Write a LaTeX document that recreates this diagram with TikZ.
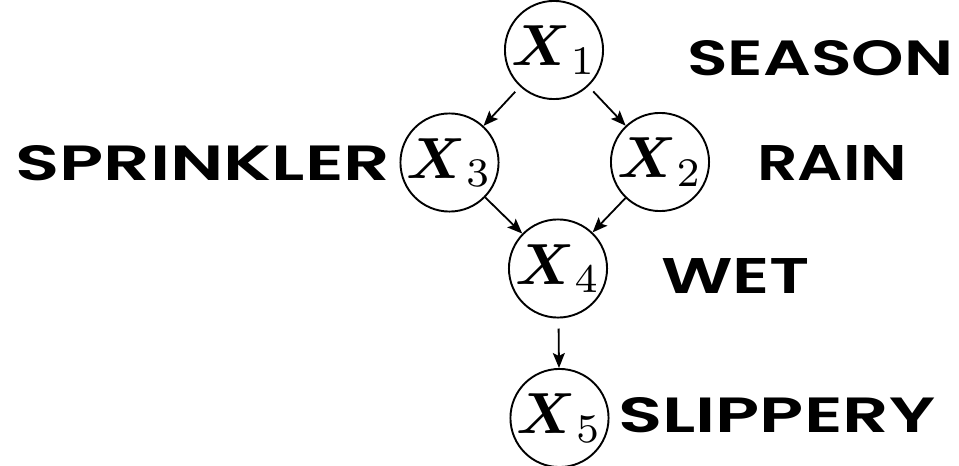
\documentclass[tikz,border=0pt]{standalone}
\usepackage{amsmath}
\usepackage{graphicx}
\usepackage{fontspec}
\newfontfamily\labfont{Poppins}[UprightFont=*-SemiBold]
\usetikzlibrary{arrows.meta}
\tikzset{
  var/.style={circle,draw,line width=1.9pt,minimum size=93pt,inner sep=0pt},
  lab/.style={anchor=base west,inner sep=0pt,font=\labfont},
  edge/.style={line width=1.8pt,-{Stealth[length=15pt,width=12pt,inset=3pt]}}
}
\newcommand{\lbl}[2]{\resizebox{#1}{35pt}{#2}}
\newcommand{\vx}[1]{\scalebox{5.8}{$\boldsymbol{X}_{#1}$}}
\begin{document}
\begin{tikzpicture}[x=1pt,y=-1pt]
\useasboundingbox (0,0) rectangle (959,466);
\node[var] (x1) at (554,50) {\vx{1}};
\node[var] (x3) at (449.5,162.5) {\vx{3}};
\node[var] (x2) at (660,162) {\vx{2}};
\node[var] (x4) at (558,268.5) {\vx{4}};
\node[var] (x5) at (559.5,418) {\vx{5}};
\node[lab] (season) at (687,75) {\lbl{266pt}{SEASON}};
\node[lab] (sprinkler) at (15,180) {\lbl{375pt}{SPRINKLER}};
\node[lab] (rain) at (757,180) {\lbl{150pt}{RAIN}};
\node[lab] (wet) at (661,293) {\lbl{149pt}{WET}};
\node[lab] (slippery) at (618,432) {\lbl{317pt}{SLIPPERY}};
\draw[edge,shorten <=7pt] (x1) -- (x3);
\draw[edge,shorten <=7pt] (x1) -- (x2);
\draw[edge] (x3) -- (x4);
\draw[edge] (x2) -- (x4);
\draw[edge,shorten <=10pt] (x4) -- (x5);
\end{tikzpicture}
\end{document}
